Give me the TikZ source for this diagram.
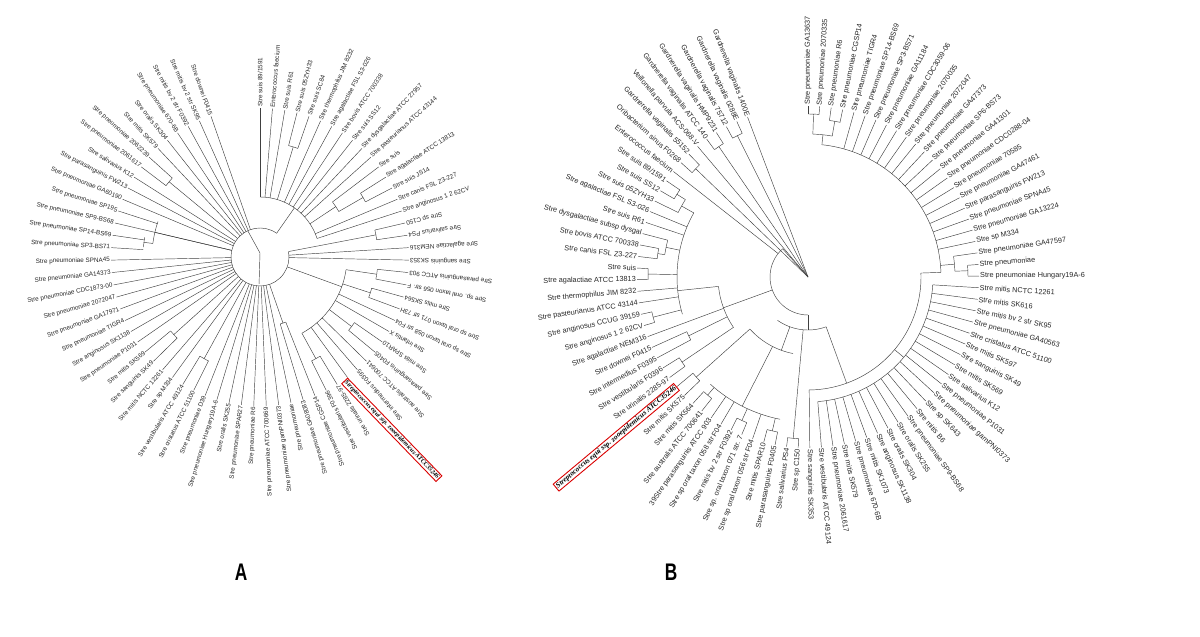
\documentclass[tikz,border=0pt]{standalone}
\usepackage{fontspec}
\setmainfont{Liberation Sans}
\newfontfamily\boxfont{Liberation Serif}
\usetikzlibrary{calc}

\begin{document}
\begin{tikzpicture}[x=1pt,y=1pt,
  branch/.style={line width=0.45pt,draw=black!75},
  laba/.style={inner sep=1pt,text=black!85,font=\fontsize{6.3}{7}\selectfont},
  labb/.style={inner sep=1pt,text=black!85,font=\fontsize{7.3}{8}\selectfont},
  redbox/.style={draw=red!85!black,line width=0.9pt,inner sep=1.2pt,font=\boxfont\bfseries\itshape}]
\useasboundingbox (0,0) rectangle (1200,637);

% ---------------- tree A ----------------
\begin{scope}[shift={(260,380)}]
  \coordinate (ca) at (0,0);
  \draw[branch] (115:29) -- (0,4) -- (268:27);
  \draw[branch] (55:29) arc[start angle=55,end angle=370,radius=29pt];
  % clades: from / to / radius / stem angle / parent radius
  \foreach \a/\b/\r/\s/\p in {90/18/60/55/29, 75.6/70.8/115/73.2/60,
      32.4/27.6/119/30/91, 37.2/30/91/33.6/60, 13.2/8.4/118/10.8/29,
      -8.4/-61.2/87/-20/29, -6/-10.8/118/-8.4/87, -15.6/-20.4/116/-18/87,
      -34.8/-39.6/115/-37.2/87, -58.8/-63.6/116/-61.2/87, -68.4/-73.2/70/-70.8/29,
      224.4/219.6/116/222/29, 175.2/170.4/117/172.8/108, 172.8/160.8/108/166.8/29,
      142.8/138/118/140.4/29, 243.6/238.8/116/241.2/29}{
    \draw[branch] (\a:\r) arc[start angle=\a,end angle=\b,radius=\r pt];
    \draw[branch] (\s:\p) -- (\s:\r);
  }
  \foreach \i/\rs/\txt in {1/60/{Stre suis 89/1591}, 2/60/{Enterococcus faecium},
      3/60/{Stre suis R61}, 4/115/{Stre suis 05ZYH33}, 5/115/{Stre suis SC84},
      6/60/{Stre thermophilus JIM 8232}, 7/60/{Stre agalactiae FSL S3-026},
      8/60/{Stre bovis ATCC 700338}, 9/60/{Stre suis SS12},
      10/60/{Stre dysgalactiae ATCC 27957}, 11/60/{Stre pasteurianus ATCC 43144},
      12/91/{Stre suis}, 13/119/{Stre agalactiae ATCC 13813}, 14/119/{Stre suis JS14},
      15/60/{Stre canis FSL Z3-227}, 16/60/{Stre anginosus 1 2 62CV},
      17/118/{Stre sp C150}, 18/118/{Stre salivarius PS4}, 19/29/{Stre agalactiae NEM316},
      20/29/{Stre sanguinis SK353}, 21/118/{Stre parasanguinis ATCC 903},
      22/118/{Stre sp. oral taxon 056 str. F}, 23/116/{Stre mitis SK564},
      24/116/{Stre sp oral taxon 071 str 73H}, 25/87/{Stre sp oral taxon 058 str F04},
      26/87/{Stre infantis X}, 27/115/{Stre mitis SPAR10}, 28/115/{Stre parasanguinis F0405},
      29/87/{Stre australis ATCC 700641}, 30/87/{Stre intermedius F0395},
      32/116/{Stre urinalis 2285-97}, 33/116/{Stre vestibularis F0396},
      34/70/{Stre pneumoniae CGSP14}, 35/70/{Stre pneumoniae GA08083},
      36/29/{Stre pneumoniae}, 37/29/{Stre pneumoniae gamPNI0373},
      38/29/{Stre pneumoniae ATCC 700669}, 39/29/{Stre pneumoniae R6},
      40/29/{Stre pneumoniae SPAR27}, 41/29/{Stre oralis SK255},
      42/29/{Stre pneumoniae Hungary19A-6}, 43/29/{Stre pneumoniae D39},
      44/116/{Stre cristatus ATCC 51100}, 45/116/{Stre vestibularis ATCC 49124},
      46/29/{Stre sp M334}, 47/29/{Stre mitis NCTC 12261}, 48/116/{Stre sanguinis SK49},
      49/116/{Stre mitis SK569}, 50/29/{Stre pneumoniae P1031},
      51/29/{Stre anginosus SK1138}, 52/29/{Stre pneumoniae TIGR4},
      53/29/{Stre pneumoniae GA17971}, 54/29/{Stre pneumoniae 2072047},
      55/29/{Stre pneumoniae CDC1873-00}, 56/29/{Stre pneumoniae GA14373},
      57/29/{Stre pneumoniae SPNA45}, 58/117/{Stre pneumoniae SP3-BS71},
      59/117/{Stre pneumoniae SP14-BS69}, 60/29/{Stre pneumoniae SP9-BS68},
      61/108/{Stre pneumoniae SP195}, 62/29/{Stre pneumoniae GA60190},
      63/29/{Stre parasanguinis FW213}, 64/29/{Stre salivarius K12},
      65/118/{Stre pneumoniae 2061617}, 66/118/{Stre pneumoniae 2062239},
      67/29/{Stre mitis SK579}, 68/29/{Stre oralis SK304}, 69/29/{Stre pneumoniae 670-6B},
      70/29/{Stre mitis bv 2 str F0392}, 71/29/{Stre mitis bv 2 str SK95},
      72/29/{Stre downei F0415}}{
    \pgfmathsetmacro\ang{90-4.8*(\i-1)}
    \draw[branch] (\ang:\rs) -- (\ang:149) coordinate (ta\i);
    \ifnum\i<17
      \node[laba,anchor=west,rotate=\ang] (a\i) at (ta\i) {\txt};
    \else
      \node[laba,anchor=east,rotate=\ang+180] (a\i) at (ta\i) {\txt};
    \fi
  }
  % highlighted strain
  \draw[branch] (-54:87) -- (-54:149) coordinate (ta31);
  \node[redbox,font=\boxfont\bfseries\itshape\fontsize{6.3}{7}\selectfont,
    anchor=north west,rotate=-46] (a31) at (ta31) {Streptococcus equi ssp. zooepidemicus ATCC35246};
\end{scope}

% ---------------- tree B ----------------
\begin{scope}[shift={(808,360)}]
  \coordinate (cb) at (0,0);
  \draw[branch] (0,0) -- (132:27) -- (132:38);
  \draw[branch] (132:38) arc[start angle=132,end angle=270,radius=38pt];
  % clades: from / to / radius / stem angle / parent radius
  \foreach \a/\b/\r/\s/\p in {88.05/80.25/143/84/133, 84/2/133/2/113,
      8.1/2.25/147/5/133, -3.6/-85.5/125/-40/113, 2/-89.4/113/-70/53,
      235/290/53/270/38,
      186/214.05/90/200/38, 150.7/196.5/131/186/90, 165.3/171.15/145/168.2/131,
      153.6/147.75/145/150.7/131,
      221.85/258.9/78/250/53, 227.7/258.9/145/243/78}{
    \draw[branch] (\a:\r) arc[start angle=\a,end angle=\b,radius=\r pt];
    \draw[branch] (\s:\p) -- (\s:\r);
  }
  % terminal pairs: first / second / radius / parent radius
  \foreach \a/\b/\r/\p in {90/86.1/163/143, 82.2/78.3/158/143, 4.2/0.3/160/147,
      -93.3/-97.2/162/53, 145.8/149.7/155/145, 177/180.9/160/131,
      173.1/169.2/152/145, 192.6/196.5/160/131, 208.2/204.3/133/90,
      216/212.1/152/90, 219.9/223.8/150/78, 258.9/255/158/145,
      243.3/247.2/158/145, 231.6/227.7/155/145,
      118.5/114.6/158/0, 126.3/122.4/158/0, 138/134.1/156/0}{
    \draw[branch] (\a:\r) arc[start angle=\a,end angle=\b,radius=\r pt];
    \pgfmathsetmacro\m{(\a+\b)/2}
    \draw[branch] (\m:\p) -- (\m:\r);
  }
  \foreach \i/\rs/\txt in {1/163/{Stre pneumoniae GA13637}, 2/163/{Stre pneumoniae 2070335},
      3/158/{Stre pneumoniae R6}, 4/158/{Stre pneumoniae CGSP14},
      5/133/{Stre pneumoniae TIGR4}, 6/133/{Stre pneumoniae SP14-BS69},
      7/133/{Stre pneumoniae SP3-BS71}, 8/133/{Stre pneumoniae GA11184},
      9/133/{Stre pneumoniae CDC3059-06}, 10/133/{Stre pneumoniae 2070035},
      11/133/{Stre pneumoniae 2072047}, 12/133/{Stre pneumoniae GA47373},
      13/133/{Stre pneumoniae SP6-BS73}, 14/133/{Stre pneumoniae GA41301},
      15/133/{Stre pneumoniae CDC0288-04}, 16/133/{Stre pneumoniae 70585},
      17/133/{Stre pneumoniae GA47461}, 18/133/{Stre parasanguinis FW213},
      19/133/{Stre pneumoniae SPNA45}, 20/133/{Stre pneumoniae GA13224},
      21/133/{Stre sp M334}, 22/147/{Stre pneumoniae GA47597},
      23/160/{Stre pneumoniae}, 24/160/{Stre pneumoniae Hungary19A-6},
      25/125/{Stre mitis NCTC 12261}, 26/125/{Stre mitis SK616},
      27/125/{Stre mitis bv 2 str SK95}, 28/125/{Stre pneumoniae GA40563},
      29/125/{Stre cristatus ATCC 51100}, 30/125/{Stre mitis SK597},
      31/125/{Stre sanguinis SK49}, 32/125/{Stre mitis SK569},
      33/125/{Stre salivarius K12}, 34/125/{Stre pneumoniae P1031},
      35/125/{Stre pneumoniae gamPNI0373}, 36/125/{Stre sp SK643},
      37/125/{Stre mitis B6}, 38/125/{Stre pneumoniae SP9-BS68},
      39/125/{Stre oralis SK255}, 40/125/{Stre oralis SK304},
      41/125/{Stre anginosus SK1138}, 42/125/{Stre mitis SK1073},
      43/125/{Stre pneumoniae 670-6B}, 44/125/{Stre mitis SK579},
      45/125/{Stre pneumoniae 2061617}, 46/125/{Stre vestibularis ATCC 49124},
      47/113/{Stre sanguinis SK353}, 48/162/{Stre sp C150}, 49/162/{Stre salivarius PS4},
      50/158/{Stre parasanguinis F0405}, 51/158/{Stre mitis SPAR10},
      52/145/{Stre sp oral taxon 056 str F04}, 53/158/{Stre sp. oral taxon 071 str. 7},
      54/158/{Stre mitis bv 2 str F0392}, 55/145/{Stre sp oral taxon 058 str F04},
      56/145/{39Stre parasanguinis ATCC 903}, 57/155/{Stre australis ATCC 700641},
      58/155/{Stre mitis SK564}, 59/150/{Stre mitis SK575},
      61/152/{Stre urinalis 2285-97}, 62/152/{Stre vestibularis F0396},
      63/133/{Stre intermedius F0395}, 64/133/{Stre downei F0415},
      65/90/{Stre agalactiae NEM316}, 66/160/{Stre anginosus 1 2 62CV},
      67/160/{Stre anginosus CCUG 39159}, 68/131/{Stre pasteurianus ATCC 43144},
      69/131/{Stre thermophilus JIM 8232}, 70/160/{Stre agalactiae ATCC 13813},
      71/160/{Stre suis}, 72/152/{Stre canis FSL Z3-227}, 73/152/{Stre bovis ATCC 700338},
      74/145/{Stre dysgalactiae subsp dysgal}, 75/131/{Stre suis R61},
      76/131/{Stre agalactiae FSL S3-026}, 77/145/{Stre suis 05ZYH33},
      78/155/{Stre suis SS12}, 79/155/{Stre suis 89/1591}, 80/38/{Enterococcus faecium},
      81/156/{Oribacterium sinus F0268}, 82/156/{Gardnerella vaginalis 55152},
      83/0/{Veillonella parvula ACS-068-V}, 84/158/{Gardnerella vaginalis ATCC 140},
      85/158/{Gardnerella vaginalis HMP9231}, 86/158/{Gardnerella vaginalis 75712},
      87/158/{Gardnerella vaginalis 0288E}, 88/0/{Gardnerella vaginalis 1400E}}{
    \pgfmathsetmacro\ang{90-3.9*(\i-1)}
    \draw[branch] (\ang:\rs) -- (\ang:171) coordinate (tb\i);
    \ifnum\i<48
      \node[labb,anchor=west,rotate=\ang] (b\i) at (tb\i) {\txt};
    \else
      \node[labb,anchor=east,rotate=\ang+180] (b\i) at (tb\i) {\txt};
    \fi
  }
  \draw[branch] (-140.1:150) -- (-140.1:171) coordinate (tb60);
  \node[redbox,font=\boxfont\bfseries\itshape\fontsize{7.3}{8}\selectfont,
    anchor=east,rotate=39.9] (b60) at (tb60) {Streptococcus equi ssp. zooepidemicus ATCC35246};
\end{scope}

\node[font=\bfseries\fontsize{24}{24}\selectfont,xscale=0.72] (pa) at (241,65) {A};
\node[font=\bfseries\fontsize{24}{24}\selectfont,xscale=0.72] (pb) at (671,65) {B};
\end{tikzpicture}
\end{document}
